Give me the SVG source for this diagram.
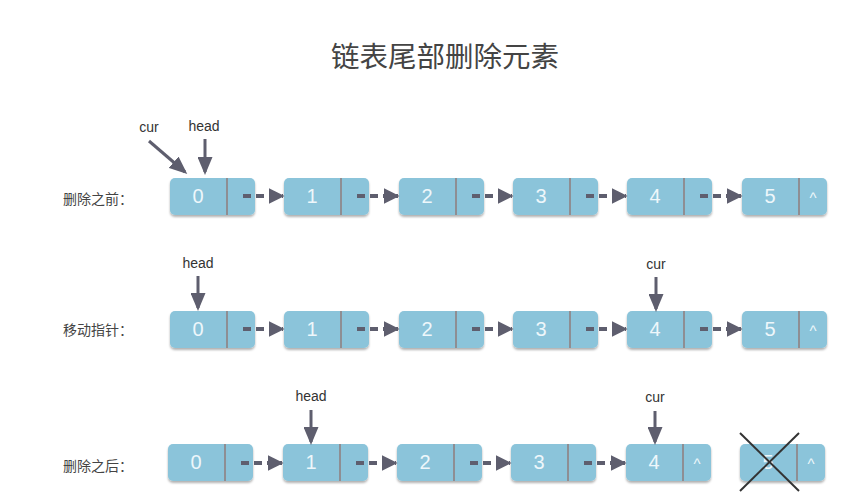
<svg xmlns="http://www.w3.org/2000/svg" width="861" height="503" viewBox="0 0 861 503">
<defs>
<style>
.box{fill:#8bc4da;filter:url(#sh)}
.div{stroke:#8e8e93;stroke-width:2}
.val{font-family:"Liberation Sans",Arial,sans-serif;font-size:20px;fill:#eef7fb;text-anchor:middle}
.car{font-family:"Liberation Sans",Arial,sans-serif;font-size:15px;fill:#eef7fb;text-anchor:middle}
.lnk{stroke:#5e5e6e;stroke-width:4;stroke-dasharray:8,5;fill:none}
.ptr{stroke:#5e5e6e;stroke-width:3;fill:none}
.lbl{font-family:"Liberation Sans","Noto Sans CJK SC",sans-serif;font-size:14px;fill:#444}
.ptxt{font-family:"Liberation Sans",Arial,sans-serif;font-size:14px;fill:#333;text-anchor:middle}
</style>
<filter id="sh" x="-10%" y="-10%" width="120%" height="140%">
<feDropShadow dx="0" dy="2" stdDeviation="1.2" flood-color="#000" flood-opacity="0.3"/>
</filter>
<marker id="ah" markerWidth="4" markerHeight="4" refX="3.6" refY="2" orient="auto" markerUnits="strokeWidth">
<path d="M0,0 L4,2 L0,4 z" fill="#5e5e6e"/>
</marker>
<marker id="pa" markerWidth="6" markerHeight="5" refX="5" refY="2.5" orient="auto" markerUnits="strokeWidth">
<path d="M0,0 L6,2.5 L0,5 z" fill="#5e5e6e"/>
</marker>
<g id="node">
<rect class="box" x="0" y="0" width="85" height="37" rx="5"/>
<line class="div" x1="57" y1="0" x2="57" y2="37"/>
</g>
</defs>
<rect width="861" height="503" fill="#fff"/>
<text x="445" y="67" text-anchor="middle" font-family="'Noto Sans CJK SC',sans-serif" font-size="28.5" fill="#444">链表尾部删除元素</text>

<g id="labels">
<text class="lbl" x="63" y="204">删除之前：</text>
<text class="lbl" x="63" y="335">移动指针：</text>
<text class="lbl" x="63" y="471">删除之后：</text>
</g>

<!-- Row 1 -->
<g id="r1n0"><use href="#node" x="170" y="178"/><text class="val" x="198" y="203">0</text></g>
<g id="r1n1"><use href="#node" x="284" y="178"/><text class="val" x="312" y="203">1</text></g>
<g id="r1n2"><use href="#node" x="399" y="178"/><text class="val" x="427" y="203">2</text></g>
<g id="r1n3"><use href="#node" x="513" y="178"/><text class="val" x="541" y="203">3</text></g>
<g id="r1n4"><use href="#node" x="627" y="178"/><text class="val" x="655" y="203">4</text></g>
<g id="r1n5"><use href="#node" x="742" y="178"/><text class="val" x="770" y="203">5</text><text class="car" x="813" y="203">^</text></g>

<!-- Row 2 -->
<g id="r2n0"><use href="#node" x="170" y="311"/><text class="val" x="198" y="336">0</text></g>
<g id="r2n1"><use href="#node" x="284" y="311"/><text class="val" x="312" y="336">1</text></g>
<g id="r2n2"><use href="#node" x="399" y="311"/><text class="val" x="427" y="336">2</text></g>
<g id="r2n3"><use href="#node" x="513" y="311"/><text class="val" x="541" y="336">3</text></g>
<g id="r2n4"><use href="#node" x="627" y="311"/><text class="val" x="655" y="336">4</text></g>
<g id="r2n5"><use href="#node" x="742" y="311"/><text class="val" x="770" y="336">5</text><text class="car" x="813" y="336">^</text></g>

<!-- Row 3 -->
<g id="r3n0"><use href="#node" x="168" y="444"/><text class="val" x="196" y="469">0</text></g>
<g id="r3n1"><use href="#node" x="283" y="444"/><text class="val" x="311" y="469">1</text></g>
<g id="r3n2"><use href="#node" x="397" y="444"/><text class="val" x="425" y="469">2</text></g>
<g id="r3n3"><use href="#node" x="511" y="444"/><text class="val" x="539" y="469">3</text></g>
<g id="r3n4"><use href="#node" x="626" y="444"/><text class="val" x="654" y="469">4</text><text class="car" x="697" y="469">^</text></g>
<g id="r3n5"><use href="#node" x="740" y="444"/><text class="val" x="768" y="469">5</text><text class="car" x="811" y="469">^</text>
<line x1="740" y1="433" x2="799" y2="491" stroke="#333" stroke-width="2"/>
<line x1="799" y1="433" x2="740" y2="491" stroke="#333" stroke-width="2"/></g>

<g id="connectors">
<line class="lnk" x1="243" y1="196" x2="283" y2="196" marker-end="url(#ah)"/>
<line class="lnk" x1="357" y1="196" x2="398" y2="196" marker-end="url(#ah)"/>
<line class="lnk" x1="472" y1="196" x2="512" y2="196" marker-end="url(#ah)"/>
<line class="lnk" x1="586" y1="196" x2="626" y2="196" marker-end="url(#ah)"/>
<line class="lnk" x1="700" y1="196" x2="741" y2="196" marker-end="url(#ah)"/>

<line class="lnk" x1="243" y1="329" x2="283" y2="329" marker-end="url(#ah)"/>
<line class="lnk" x1="357" y1="329" x2="398" y2="329" marker-end="url(#ah)"/>
<line class="lnk" x1="472" y1="329" x2="512" y2="329" marker-end="url(#ah)"/>
<line class="lnk" x1="586" y1="329" x2="626" y2="329" marker-end="url(#ah)"/>
<line class="lnk" x1="700" y1="329" x2="741" y2="329" marker-end="url(#ah)"/>

<line class="lnk" x1="241" y1="463" x2="282" y2="463" marker-end="url(#ah)"/>
<line class="lnk" x1="356" y1="463" x2="396" y2="463" marker-end="url(#ah)"/>
<line class="lnk" x1="470" y1="463" x2="510" y2="463" marker-end="url(#ah)"/>
<line class="lnk" x1="584" y1="463" x2="625" y2="463" marker-end="url(#ah)"/>

<line class="ptr" x1="149" y1="141" x2="185" y2="172" marker-end="url(#pa)"/>
<line class="ptr" x1="205" y1="139" x2="205" y2="172" marker-end="url(#pa)"/>
<line class="ptr" x1="198" y1="276" x2="198" y2="308" marker-end="url(#pa)"/>
<line class="ptr" x1="656" y1="277" x2="656" y2="309" marker-end="url(#pa)"/>
<line class="ptr" x1="311" y1="410" x2="311" y2="442" marker-end="url(#pa)"/>
<line class="ptr" x1="655" y1="411" x2="655" y2="442" marker-end="url(#pa)"/>
</g>

<g id="pointer-labels">
<text class="ptxt" x="149" y="132">cur</text>
<text class="ptxt" x="204" y="131">head</text>
<text class="ptxt" x="198" y="268">head</text>
<text class="ptxt" x="656" y="269">cur</text>
<text class="ptxt" x="311" y="401">head</text>
<text class="ptxt" x="655" y="402">cur</text>
</g>
</svg>
